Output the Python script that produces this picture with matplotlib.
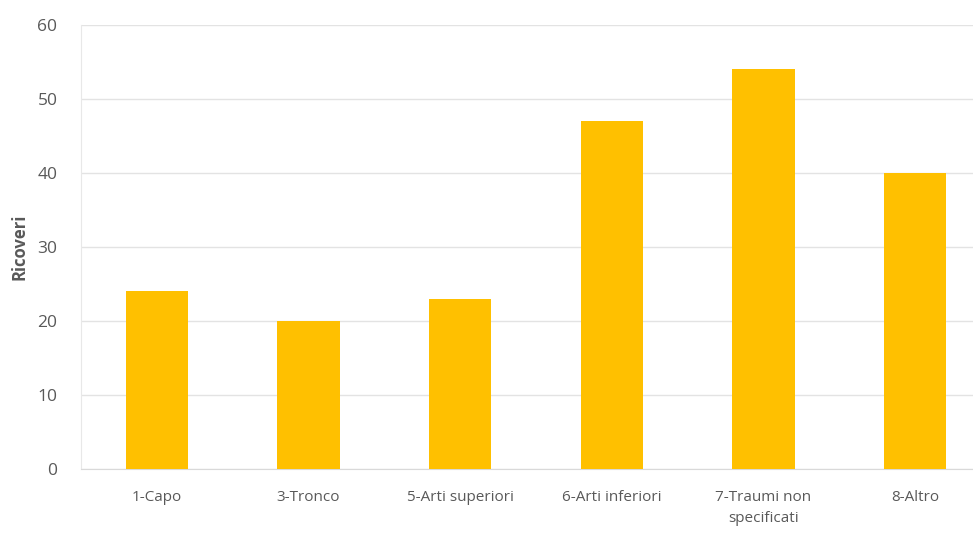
import matplotlib
matplotlib.use("Agg")
import matplotlib.pyplot as plt

categories = ["1-Capo", "3-Tronco", "5-Arti superiori", "6-Arti inferiori",
              "7-Traumi non\nspecificati", "8-Altro"]
ricoveri = [24, 20, 23, 47, 54, 40]
y_ticks = [0, 10, 20, 30, 40, 50, 60]

plt.rcParams["font.family"] = ["Open Sans", "DejaVu Sans"]

fig = plt.figure(figsize=(9.73, 5.34), dpi=100)
# axes span slightly past the right edge of the canvas
ax = fig.add_axes([81 / 973, 1 - 469 / 534, 910 / 973, 444 / 534])

x = list(range(len(categories)))
ax.bar(x, ricoveri, width=0.41, color="#FFC000", zorder=3)

ax.set_xlim(-0.5, len(categories) - 0.5)
ax.set_ylim(0, 60)
ax.set_yticks(y_ticks)
ax.set_xticks(x)
ax.set_xticklabels(categories, fontsize=11, color="#595959", linespacing=1.6)
ax.tick_params(axis="y", labelsize=12.5, labelcolor="#595959", length=0, pad=17)
ax.tick_params(axis="x", length=0, pad=15)

ax.grid(axis="y", color="#E3E3E3", linewidth=1, zorder=0)
for side in ["top", "right"]:
    ax.spines[side].set_visible(False)
ax.spines["left"].set_color("#E8E8E8")
ax.spines["bottom"].set_color("#D9D9D9")

ax.set_ylabel("Ricoveri", fontsize=12, fontweight="bold", color="#595959")
ax.yaxis.set_label_coords(-53 / 910, 0.5)

fig.savefig("out.png", dpi=100)
